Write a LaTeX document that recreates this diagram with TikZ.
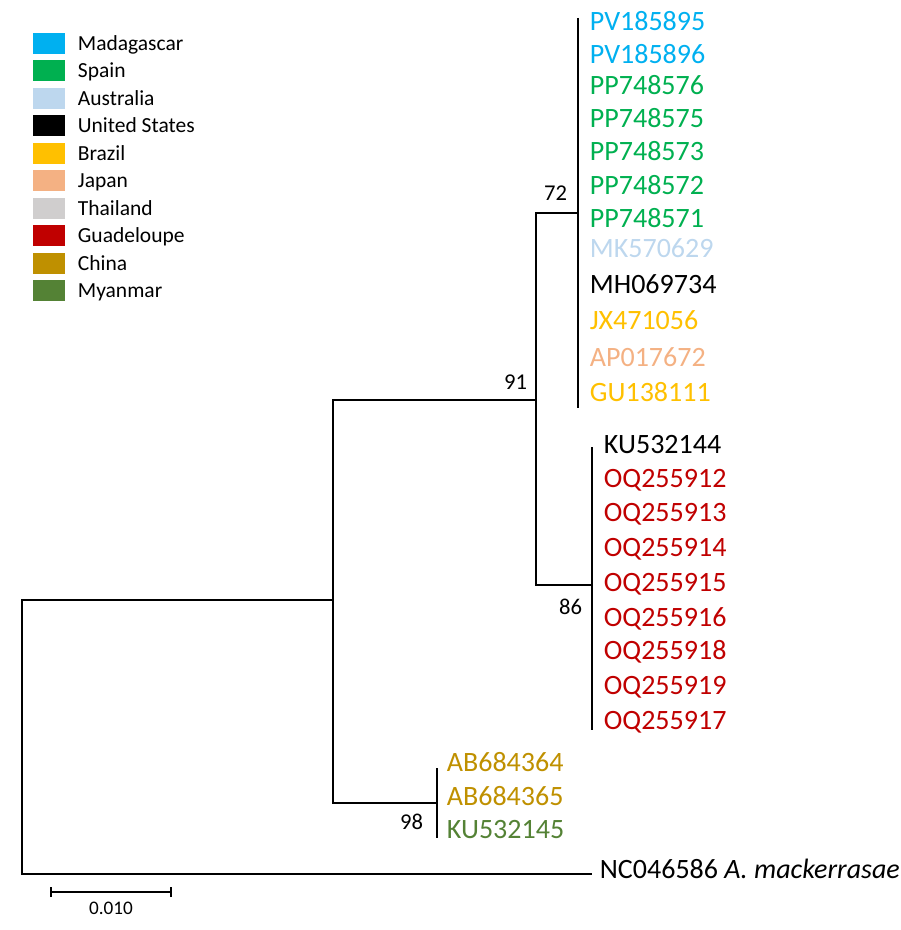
\documentclass[tikz,border=0pt]{standalone}
\usepackage{fontspec}
\setmainfont{Carlito}
\definecolor{madagascar}{HTML}{00B0F0}
\definecolor{spain}{HTML}{00B050}
\definecolor{australia}{HTML}{BDD7EE}
\definecolor{usa}{HTML}{000000}
\definecolor{brazil}{HTML}{FFC000}
\definecolor{japan}{HTML}{F4B183}
\definecolor{thailand}{HTML}{D0CECE}
\definecolor{guadeloupe}{HTML}{C00000}
\definecolor{china}{HTML}{BF9000}
\definecolor{myanmar}{HTML}{548235}

\begin{document}
\begin{tikzpicture}[x=0.5pt,y=-0.5pt,line width=0.9pt,
  tip/.style={anchor=base west,inner sep=0pt,font=\fontsize{14}{16}\selectfont},
  boot/.style={anchor=east,inner sep=0pt,font=\fontsize{11.3}{13}\selectfont},
  legtext/.style={anchor=base west,inner sep=0pt,font=\fontsize{10.75}{12}\selectfont}]
\useasboundingbox (0,0) rectangle (900,930);
% legend
\foreach \country/\col [count=\i from 0] in {Madagascar/madagascar,Spain/spain,Australia/australia,United States/usa,Brazil/brazil,Japan/japan,Thailand/thailand,Guadeloupe/guadeloupe,China/china,Myanmar/myanmar}
{
\fill[\col] (33,{33+27.5*\i}) rectangle (65,{54+27.5*\i});
\node[legtext] (leg\i) at (77,{50.5+27.5*\i}) {\country};
}
% internal nodes
\coordinate (root) at (22,737);
\coordinate (nA) at (333,600);
\coordinate (nB) at (536,400);
\coordinate (n72) at (578,213);
\coordinate (n86) at (592,585);
\coordinate (n98) at (437,803);
\coordinate (outg) at (592,874);
\draw (nA) -| (root) |- (outg);
\draw (nB) -| (nA) |- (n98);
\draw (n72) -| (nB) |- (n86);
% terminal clades
\coordinate (t72a) at (578,18);
\coordinate (t72b) at (578,408);
\coordinate (t86a) at (592,447);
\coordinate (t86b) at (592,730);
\coordinate (t98a) at (437,768);
\coordinate (t98b) at (437,838);
\draw (t72a) -- (t72b);
\draw (t86a) -- (t86b);
\draw (t98a) -- (t98b);
% tip labels
\foreach \acc/\yy/\col in {PV185895/22/madagascar,PV185896/55/madagascar,PP748576/86/spain,PP748575/119/spain,PP748573/152/spain,PP748572/186/spain,PP748571/219/spain,MK570629/249/australia,MH069734/284/usa,JX471056/320/brazil,AP017672/357/japan,GU138111/392/brazil}
\node[tip,text=\col] (\acc) at (589,{\yy+9}) {\acc};
\foreach \acc/\yy/\col in {KU532144/444/usa,OQ255912/478/guadeloupe,OQ255913/512.5/guadeloupe,OQ255914/547/guadeloupe,OQ255915/582/guadeloupe,OQ255916/617/guadeloupe,OQ255918/650/guadeloupe,OQ255919/685/guadeloupe,OQ255917/720/guadeloupe}
\node[tip,text=\col] (\acc) at (603,{\yy+9}) {\acc};
\foreach \acc/\yy/\col in {AB684364/762/china,AB684365/796/china,KU532145/829/myanmar}
\node[tip,text=\col] (\acc) at (446,{\yy+9}) {\acc};
\node[tip] (NC046586) at (599,878) {NC046586 \textit{A. mackerrasae}};
% bootstrap values
\node[boot] (b72) at (568,193) {72};
\node[boot] (b91) at (528,382) {91};
\node[boot] (b86) at (583,607) {86};
\node[boot] (b98) at (424,822) {98};
% scale bar
\coordinate (sL) at (51,892);
\coordinate (sR) at (171,892);
\draw (sL) -- (sR);
\draw ([yshift=-2.5pt]sL) -- ([yshift=2.5pt]sL);
\draw ([yshift=-2.5pt]sR) -- ([yshift=2.5pt]sR);
\node[inner sep=0pt,font=\fontsize{9.6}{11}\selectfont] (scale) at (111,908) {0.010};
\end{tikzpicture}
\end{document}
